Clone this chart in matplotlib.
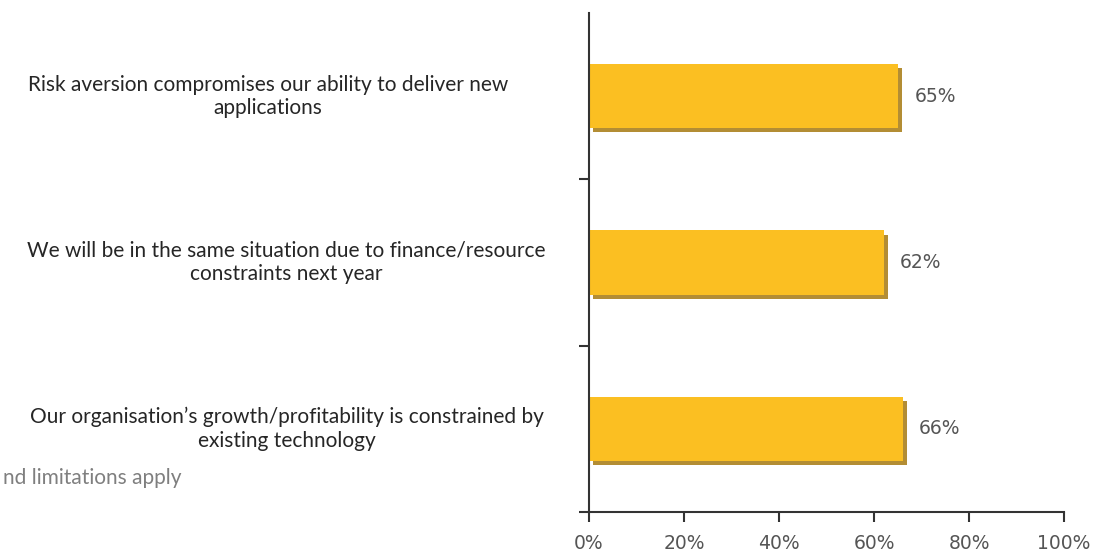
import matplotlib.pyplot as plt
import matplotlib.patheffects as pe
from matplotlib.transforms import blended_transform_factory

# survey statements, bottom to top
statements = [
    "Our organisation\u2019s growth/profitability is constrained by\nexisting technology",
    "We will be in the same situation due to finance/resource\nconstraints next year",
    "Risk aversion compromises our ability to deliver new\napplications",
]
shares = [66, 62, 65]
ticks = [0, 20, 40, 60, 80, 100]
tick_labels = ["0%", "20%", "40%", "60%", "80%", "100%"]
footnote = "nd limitations apply"

bar_color = "#FBBF22"
shadow_color = "#B38D34"
axis_color = "#333333"

fig = plt.figure(figsize=(11.17, 5.56), dpi=100)
ax = fig.add_axes([0.5273, 0.0791, 0.4253, 0.8975])

ypos = list(range(len(shares)))
bars = ax.barh(ypos, shares, height=0.385, color=bar_color, linewidth=0, zorder=2)
for b in bars:
    b.set_path_effects([pe.SimplePatchShadow(offset=(3, -3), shadow_rgbFace=shadow_color, alpha=1.0),
                        pe.Normal()])

for y, v in zip(ypos, shares):
    ax.text(v + 3.5, y, f"{v}%", va="center", ha="left", fontsize=13.5,
            color="#555555", family="DejaVu Sans")

ax.set_xlim(0, 100)
ax.set_ylim(-0.5, len(shares) - 0.5)
ax.set_xticks(ticks)
ax.set_xticklabels(tick_labels, fontsize=13.5, color="#555555")
ax.set_yticks([y + 0.5 for y in ypos[:-1]] + [-0.5])
ax.set_yticklabels([])
ax.tick_params(axis="x", length=7, width=1.5, color=axis_color, pad=9)
ax.tick_params(axis="y", length=7, width=1.5, color=axis_color)

for side in ["top", "right"]:
    ax.spines[side].set_visible(False)
for side in ["left", "bottom"]:
    ax.spines[side].set_color(axis_color)
    ax.spines[side].set_linewidth(1.5)

# category labels sit to the left of the axis, centred as blocks
label_x = [287, 286, 268]
trans = blended_transform_factory(fig.transFigure, ax.transData)
for y, txt, lx in zip(ypos, statements, label_x):
    ax.text(lx / 1117, y, txt, transform=trans,
            ha="center", va="center", multialignment="center", fontsize=15,
            family="Lato", color="#262626", linespacing=1.2)

fig.text(3 / 1117, 1 - 478 / 556, footnote, ha="left", va="center",
         fontsize=15, family="Lato", color="#7f7f7f")

fig.savefig("out.png", dpi=100)
